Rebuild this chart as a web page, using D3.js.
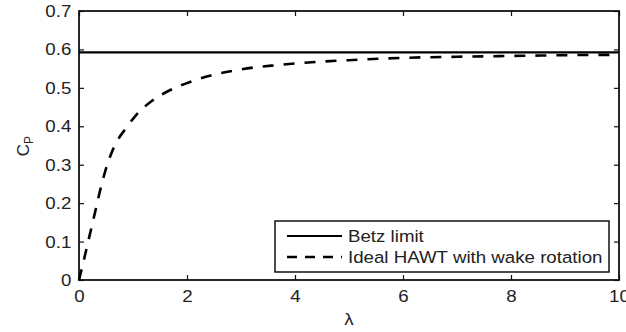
<!DOCTYPE html>
<html>
<head>
<meta charset="utf-8">
<style>
  body { margin: 0; background: #fff; }
  svg { display: block; font-family: "Liberation Sans", Arial, sans-serif; }
  .tick text { fill: #222; }
</style>
</head>
<body>
<svg width="626" height="332"></svg>
<script src="https://cdn.jsdelivr.net/npm/d3@7"></script>
<script>

// tip speed ratio and power coefficient
var lambda = [0, 0.1, 0.2, 0.3, 0.4, 0.5, 0.6, 0.7, 0.87, 1.05, 1.36, 1.7, 2.03, 2.44, 2.83, 3.24, 3.65, 4.04, 5.0, 6.0, 7.0, 8.0, 9.0, 10.0];
var cpWake = [0, 0.058, 0.118, 0.178, 0.238, 0.29, 0.33, 0.36, 0.395, 0.428, 0.467, 0.495, 0.514, 0.532, 0.544, 0.553, 0.559, 0.564, 0.572, 0.578, 0.581, 0.583, 0.585, 0.586];
var betz = 16 / 27;

var xTicks = [0, 2, 4, 6, 8, 10],
    yTicks = [0, 0.1, 0.2, 0.3, 0.4, 0.5, 0.6, 0.7];

var legendLabels = ["Betz limit", "Ideal HAWT with wake rotation"];

var svg = d3.select("svg");
// plot box (window.top is taken, so keep these in an object)
var box = {l: 79, r: 619, t: 11, b: 280};

var x = d3.scaleLinear().domain([0, 10]).range([box.l, box.r]);
var y = d3.scaleLinear().domain([0, 0.7]).range([box.b, box.t]);

var fs = 17,
    sx = 1.1; // the original export is a bit stretched sideways

// axes, ticks point inward like matlab
svg.append("g")
    .attr("transform", "translate(0," + box.b + ")")
    .call(d3.axisBottom(x).tickValues(xTicks).tickSize(-5).tickPadding(10).tickFormat(d3.format("d")))
    .call(function(g) { g.selectAll("text").attr("font-size", fs).attr("transform", "scale(" + sx + ",1)"); });

svg.append("g")
    .attr("transform", "translate(" + box.l + ",0)")
    .call(d3.axisLeft(y).tickValues(yTicks).tickSize(-5).tickPadding(7).tickFormat(function(d) { return d === 0 ? "0" : d3.format(".1f")(d); }))
    .call(function(g) { g.selectAll("text").attr("font-size", fs).attr("transform", "scale(" + sx + ",1)"); });

svg.append("g")
    .attr("transform", "translate(0," + box.t + ")")
    .call(d3.axisTop(x).tickValues(xTicks).tickSize(-5).tickFormat(""));

svg.append("g")
    .attr("transform", "translate(" + box.r + ",0)")
    .call(d3.axisRight(y).tickValues(yTicks).tickSize(-5).tickFormat(""));

svg.selectAll(".domain").remove();
svg.selectAll(".tick line").attr("stroke", "#111").attr("stroke-width", 1.2);
svg.selectAll(".tick text").attr("font-family", "Liberation Sans, Arial, sans-serif");

svg.append("rect")
    .attr("x", box.l).attr("y", box.t)
    .attr("width", box.r - box.l).attr("height", box.b - box.t)
    .attr("fill", "none").attr("stroke", "#111").attr("stroke-width", 1.8);

// curves
svg.append("line")
    .attr("x1", x(0)).attr("x2", x(10))
    .attr("y1", y(betz)).attr("y2", y(betz))
    .attr("stroke", "#000").attr("stroke-width", 2.2);

var line = d3.line()
    .x(function(d, i) { return x(lambda[i]); })
    .y(function(d) { return y(d); })
    .curve(d3.curveMonotoneX);

svg.append("path")
    .attr("d", line(cpWake))
    .attr("fill", "none")
    .attr("stroke", "#000")
    .attr("stroke-width", 2.6)
    .attr("stroke-dasharray", "11,10");

// axis labels
svg.append("text")
    .attr("transform", "translate(" + x(5) + ",325) scale(" + sx + ",1)")
    .attr("text-anchor", "middle")
    .attr("font-size", fs).attr("fill", "#222")
    .text("λ");

var yl = svg.append("text")
    .attr("transform", "translate(29,146) rotate(-90)")
    .attr("text-anchor", "middle")
    .attr("font-size", fs).attr("fill", "#222");
yl.append("tspan").text("C");
yl.append("tspan").attr("font-size", 12).attr("dy", 4).text("P");

// legend
var lg = svg.append("g").attr("transform", "translate(275,221)");
lg.append("rect")
    .attr("width", 334).attr("height", 51)
    .attr("fill", "#fff").attr("stroke", "#111").attr("stroke-width", 1.5);

var dashes = [null, "10,8"];
legendLabels.forEach(function(label, i) {
  var cy = 15 + i * 21;
  lg.append("line")
      .attr("x1", 12).attr("x2", 67)
      .attr("y1", cy).attr("y2", cy)
      .attr("stroke", "#000").attr("stroke-width", i ? 2.6 : 2.2)
      .attr("stroke-dasharray", dashes[i]);
  lg.append("text")
      .attr("transform", "translate(73," + (cy + 6) + ") scale(" + sx + ",1)")
      .attr("font-size", fs).attr("fill", "#222")
      .text(label);
});

</script>
</body>
</html>
